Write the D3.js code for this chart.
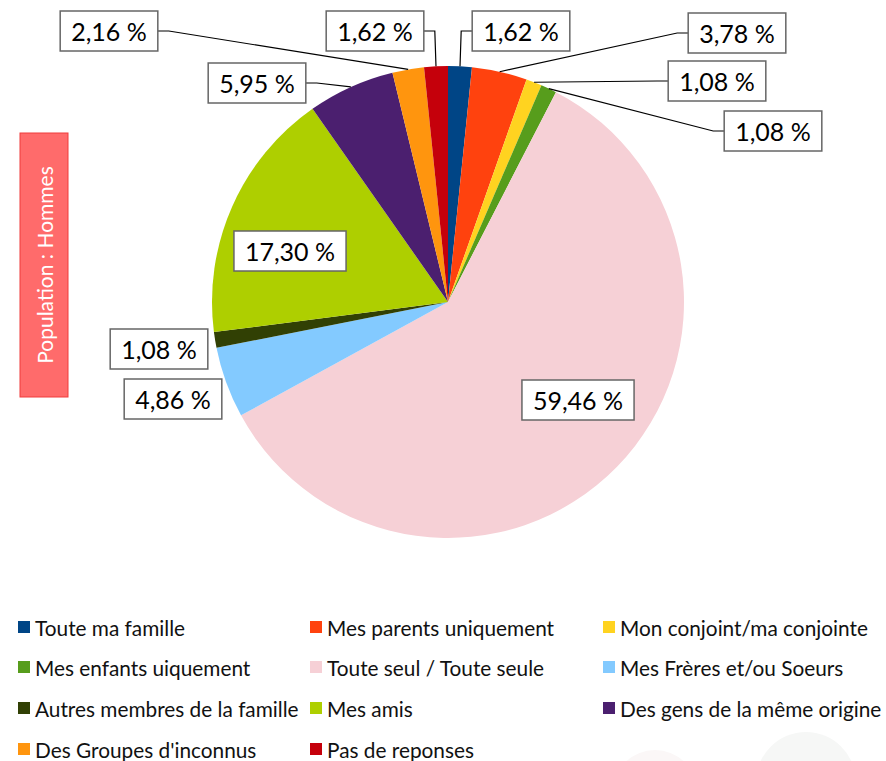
<!DOCTYPE html>
<html>
<head>
<meta charset="utf-8">
<script src="https://cdn.jsdelivr.net/npm/d3@7"></script>
<style>
  body { margin: 0; background: #fff; }
  text { font-family: Lato, "Open Sans", sans-serif; }
</style>
</head>
<body>
<div id="chart"></div>
<script>
// chart values
var categories = [
  "Toute ma famille", "Mes parents uniquement", "Mon conjoint/ma conjointe",
  "Mes enfants uiquement", "Toute seul / Toute seule", "Mes Frères et/ou Soeurs",
  "Autres membres de la famille", "Mes amis", "Des gens de la même origine",
  "Des Groupes d'inconnus", "Pas de reponses"
];
var values = [1.62, 3.78, 1.08, 1.08, 59.46, 4.86, 1.08, 17.30, 5.95, 2.16, 1.62];
var colors = ["#004586", "#ff420e", "#ffd320", "#579d1c", "#f6d0d6", "#83caff",
  "#314004", "#aecf00", "#4b1f6f", "#ff950e", "#c5000b"];
var populationLabel = "Population : Hommes";

// where each value box sits (box centre), and whether it gets a leader line
var labelLayout = [
  { x: 521, y: 31, leader: true },
  { x: 737, y: 33, leader: true },
  { x: 717, y: 81, leader: true },
  { x: 773, y: 131, leader: true },
  { x: 578, y: 400, leader: false },
  { x: 173, y: 399, leader: false },
  { x: 159, y: 349, leader: false },
  { x: 290, y: 251, leader: false },
  { x: 257, y: 83, leader: true },
  { x: 109, y: 31, leader: true },
  { x: 375, y: 31, leader: true }
];

var svgWidth = 886;
var svgHeight = 761;
var cx = 448, cy = 302, radius = 236;

var svg = d3.select("#chart")
  .append("svg")
  .attr("width", svgWidth)
  .attr("height", svgHeight);

// faint background circles at the bottom right
svg.append("circle").attr("cx", 655).attr("cy", 792).attr("r", 42).attr("fill", "#fbf7f7");
svg.append("circle").attr("cx", 806).attr("cy", 782).attr("r", 50).attr("fill", "#f6f7f6");

// population box
svg.append("rect")
  .attr("x", 20).attr("y", 133)
  .attr("width", 48).attr("height", 264)
  .attr("fill", "#ff6b6b")
  .attr("stroke", "#f03c3c")
  .attr("stroke-width", 1);

svg.append("text")
  .attr("transform", "translate(44, 265) rotate(-90)")
  .attr("text-anchor", "middle")
  .attr("dominant-baseline", "central")
  .attr("fill", "#fff")
  .attr("font-size", "21px")
  .text(populationLabel);

// pie
var pieData = d3.pie().sort(null).value(d => d)(values);
var arc = d3.arc().innerRadius(0).outerRadius(radius);

var pieGroup = svg.append("g")
  .attr("transform", `translate(${cx}, ${cy})`);

pieGroup.selectAll("path")
  .data(pieData)
  .enter()
  .append("path")
  .attr("d", arc)
  .attr("fill", (d, i) => colors[i]);

// leader lines end on the rim at the middle of the slice
function edgePoint(d) {
  var a = (d.startAngle + d.endAngle) / 2;
  return [cx + radius * Math.sin(a), cy - radius * Math.cos(a)];
}

var fmt = v => d3.format(".2f")(v).replace(".", ",") + " %";

var labels = svg.append("g");

pieData.forEach(function (d, i) {
  var lay = labelLayout[i];
  var txt = labels.append("text")
    .attr("x", lay.x)
    .attr("y", lay.y)
    .attr("text-anchor", "middle")
    .attr("dominant-baseline", "central")
    .attr("font-size", "25px")
    .attr("fill", "#000")
    .text(fmt(values[i]));
  var w = txt.node().getComputedTextLength() + 22;
  var h = 40;

  if (lay.leader) {
    var p = edgePoint(d);
    var left = lay.x < p[0];
    var bx = left ? lay.x + w / 2 : lay.x - w / 2;
    var kx = left ? bx + 11 : bx - 11;
    labels.insert("path", "text")
      .attr("d", `M${bx},${lay.y}L${kx},${lay.y}L${p[0]},${p[1]}`)
      .attr("fill", "none")
      .attr("stroke", "#000")
      .attr("stroke-width", 1.2);
  }

  labels.insert("rect", "text")
    .attr("x", lay.x - w / 2)
    .attr("y", lay.y - h / 2)
    .attr("width", w)
    .attr("height", h)
    .attr("fill", "#fff")
    .attr("stroke", "#666")
    .attr("stroke-width", 1.5);
});

// legend
var colX = [18, 310, 603];
var rowY = [627, 667, 708, 749];

var legend = svg.append("g")
  .selectAll("g")
  .data(categories)
  .enter()
  .append("g")
  .attr("transform", (d, i) => `translate(${colX[i % 3]}, ${rowY[Math.floor(i / 3)]})`);

legend.append("rect")
  .attr("x", 0).attr("y", -6)
  .attr("width", 12).attr("height", 12)
  .attr("fill", (d, i) => colors[i]);

legend.append("text")
  .attr("x", 17)
  .attr("y", 0)
  .attr("dominant-baseline", "central")
  .attr("font-size", "20.8px")
  .attr("fill", "#111")
  .text(d => d);
</script>
</body>
</html>
